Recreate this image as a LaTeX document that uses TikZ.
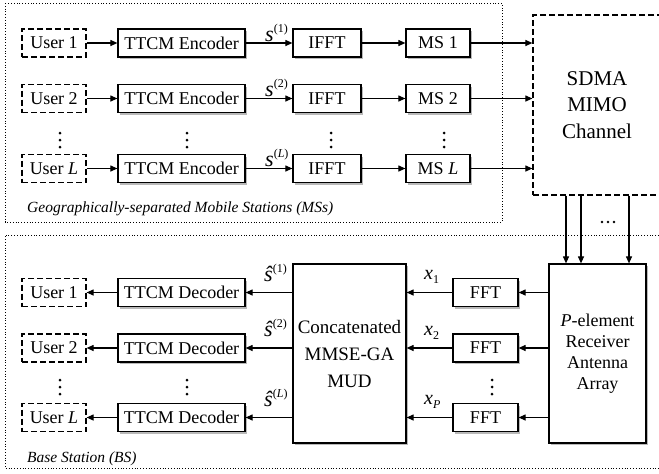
\documentclass[tikz,border=0pt]{standalone}
\usepackage{fontspec}
\setmainfont{Liberation Serif}
\usetikzlibrary{arrows.meta,shadows}
\begin{document}
\begin{tikzpicture}[x=1pt,y=-1pt,
  blk/.style={draw,line width=1.2pt,fill=white,minimum height=28pt,inner sep=0pt,
    font=\fontsize{18}{21}\selectfont,
    general shadow={fill=gray!55,shadow xshift=2pt,shadow yshift=-2pt}},
  usr/.style={draw,line width=1.2pt,dash pattern=on 6pt off 3pt,minimum width=64pt,
    minimum height=28pt,inner sep=0pt,font=\fontsize{18}{21}\selectfont},
  arr/.style={line width=1.1pt,-{Triangle[length=7pt,width=6pt]}},
  region/.style={line width=0.8pt,dotted},
  lbl/.style={inner sep=0pt,anchor=base west},
  captxt/.style={inner sep=0pt,anchor=west,font=\fontsize{15.5}{18}\selectfont\itshape},
  dotm/.style={circle,fill=black,inner sep=0pt,minimum size=3pt}
]
\useasboundingbox (0,0) rectangle (659,474);
% regions
\draw[region] (5,3) rectangle (502,222);
\draw[region] (670,235) -- (5,235) -- (5,468) -- (670,468);
\node[captxt] (capms) at (27,209) {Geographically-separated Mobile Stations (MSs)};
\node[captxt] (capbs) at (27,459) {Base Station (BS)};

% top rows
\foreach \r/\y/\t in {1/43/1,2/98.5/2,L/168.5/{\textit{L}}}{
  \node[usr] (U\r) at (54,\y) {User \t};
  \node[blk,minimum width=127pt] (E\r) at (181.5,\y) {TTCM Encoder};
  \node[blk,minimum width=68pt] (I\r) at (327,\y) {IFFT};
  \node[blk,minimum width=64pt] (M\r) at (438,\y) {MS \t};
  \node[lbl] (s\r) at (265,\y-2) {\fontsize{22}{22}\selectfont\textit{s}\raisebox{0.4em}{\fontsize{12}{12}\selectfont(\t)}};
}
\node[draw,line width=1.2pt,dash pattern=on 6pt off 3pt,minimum width=128pt,minimum height=180pt,
  align=center,font=\fontsize{21}{26.5}\selectfont] (SDMA) at (597,105) {SDMA\\MIMO\\Channel};
\foreach \r in {1,2,L}{
  \draw[arr] (U\r) -- (E\r);
  \draw[arr] (E\r) -- (I\r);
  \draw[arr] (I\r) -- (M\r);
  \draw[arr] (M\r.east) -- (M\r.east -| SDMA.west);
}
% top dots
\foreach \x/\n in {60/a,187/b,331/c,444/d}{
  \node[dotm] (t\n1) at (\x,133) {};
  \node[dotm] (t\n2) at (\x,140) {};
  \node[dotm] (t\n3) at (\x,147) {};
}

% bottom
\node[blk,minimum width=113pt,minimum height=179pt,align=center,
  font=\fontsize{19}{27}\selectfont] (MUD) at (349.5,353.5) {Concatenated\\MMSE-GA\\MUD};
\node[blk,minimum width=97pt,minimum height=179pt,align=center,
  font=\fontsize{18}{21}\selectfont] (Ant) at (597.5,353.5) {\textit{P}-element\\Receiver\\Antenna\\Array};
\foreach \r/\y/\t/\p in {1/292.5/1/1,2/348/2/2,L/417.5/{\textit{L}}/{\textit{P}}}{
  \node[usr] (V\r) at (54,\y) {User \t};
  \node[blk,minimum width=127pt] (D\r) at (181.5,\y) {TTCM Decoder};
  \node[blk,minimum width=65pt] (F\r) at (485.5,\y) {FFT};
  \node[lbl] (h\r) at (264,\y-11.5) {\fontsize{22}{22}\selectfont\textit{ŝ}\raisebox{0.4em}{\fontsize{12}{12}\selectfont(\t)}};
  \node[lbl] (x\r) at (424,\y-13) {\fontsize{20}{20}\selectfont\textit{x}\raisebox{-0.2em}{\fontsize{12}{12}\selectfont\p}};
  \draw[arr] (D\r.east -| MUD.west) -- (D\r.east);
  \draw[arr] (D\r) -- (V\r);
  \draw[arr] (F\r) -- (F\r.west -| MUD.east);
  \draw[arr] (F\r.east -| Ant.west) -- (F\r.east);
}
\foreach \x/\n in {60/a,187/b,492/c}{
  \node[dotm] (b\n1) at (\x,380) {};
  \node[dotm] (b\n2) at (\x,387) {};
  \node[dotm] (b\n3) at (\x,394) {};
}
% channel to antenna
\foreach \x/\n in {566/1,581/2,629/3}{
  \coordinate (c\n) at (\x,0);
  \draw[arr] (SDMA.south -| c\n) -- (Ant.north -| c\n);
}
\node[dotm,minimum size=2.6pt] (e1) at (602,222) {};
\node[dotm,minimum size=2.6pt] (e2) at (608,222) {};
\node[dotm,minimum size=2.6pt] (e3) at (614,222) {};
\end{tikzpicture}
\end{document}
